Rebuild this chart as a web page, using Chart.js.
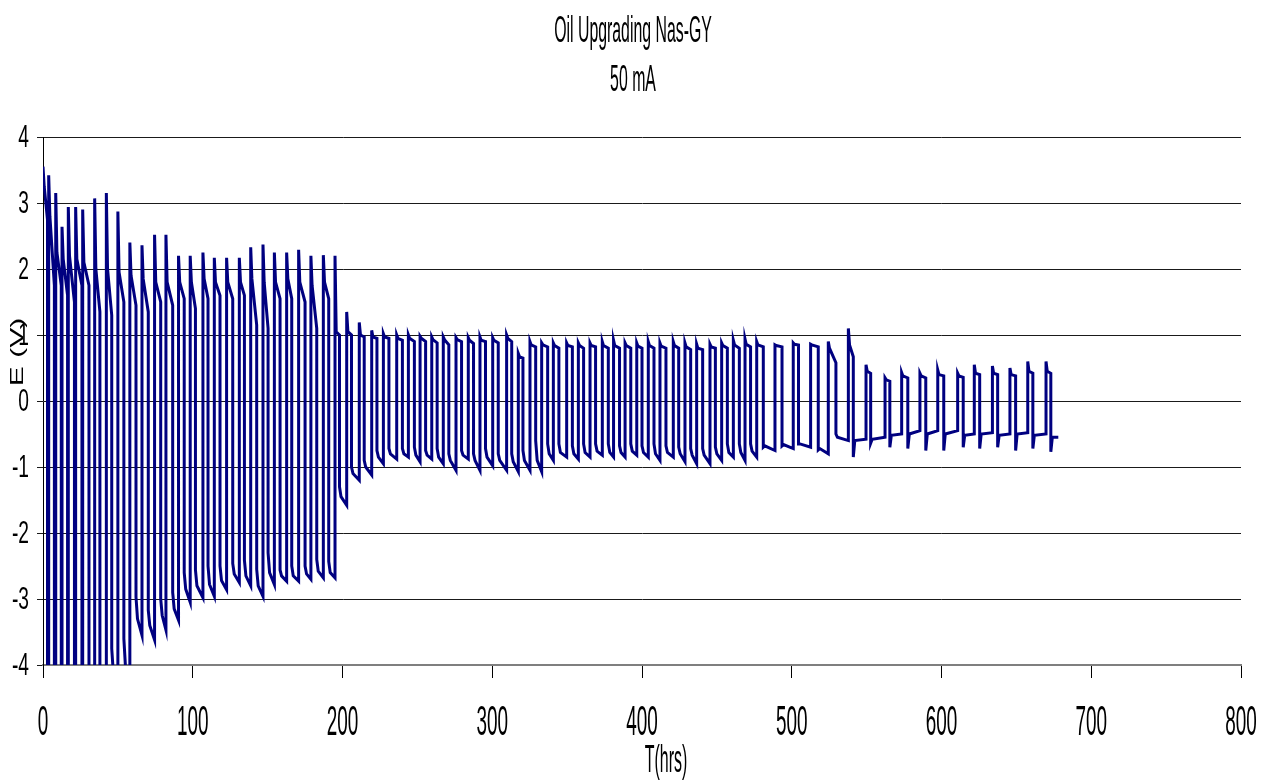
<!DOCTYPE html>
<html><head><meta charset="utf-8">
<script src="https://cdn.jsdelivr.net/npm/chart.js@4.4.1/dist/chart.umd.min.js"></script>
<style>html,body{margin:0;padding:0;background:#fff;}canvas{display:block;}</style>
</head><body>
<canvas id="c" width="1266" height="782"></canvas>
<script>
// ---- texts ----
const titleLines = ["Oil Upgrading Nas-GY", "50 mA"];
const xAxisTitle = "T(hrs)";
const yAxisTitle = "E (V)";
const xTicks = [0, 100, 200, 300, 400, 500, 600, 700, 800];
const yTicks = [-4, -3, -2, -1, 0, 1, 2, 3, 4];

// ---- cycle data (hours / volts) ----
const upT = [0, 3.8, 8.5, 12.7, 16.9, 21.8, 26.5, 34.5, 42.3, 50.0,
  58.0, 66.1, 74.5, 82.1, 90.5, 98.3, 106.8, 114.4, 122.6, 131.1,
  138.7, 146.9, 154.5, 162.7, 170.7, 178.9, 187.2, 195.0, 202.8, 211.2,
  219.5, 227.3, 236.2, 244.0, 251.8, 259.6, 267.3, 275.8, 284.0, 291.8,
  300.3, 309.6, 317.4, 325.2, 333.0, 340.8, 349.7, 357.5, 365.3, 373.5,
  381.0, 388.7, 396.5, 404.2, 412.0, 420.9, 428.7, 436.5, 445.4, 453.2,
  461.0, 468.8, 476.6, 488.8, 501.0, 512.6, 524.4, 537.8, 549.6, 562.3,
  573.4, 585.6, 597.5, 610.8, 621.9, 634.0, 645.7, 657.6, 669.8];
const downT = [3.0, 7.6, 12.2, 16.4, 21.0, 26.0, 30.7, 38.0, 45.9, 54.0,
  62.1, 70.3, 78.6, 86.6, 94.3, 101.8, 110.2, 118.2, 126.7, 134.5,
  142.7, 150.3, 158.3, 166.1, 175.0, 182.8, 190.8, 198.0, 206.0, 214.5,
  223.0, 231.0, 240.0, 248.0, 255.5, 263.2, 271.0, 279.5, 287.5, 295.5,
  304.0, 313.0, 320.5, 329.0, 337.0, 344.5, 353.5, 361.0, 369.0, 377.5,
  385.0, 392.5, 400.0, 408.0, 416.0, 424.5, 432.5, 440.5, 449.0, 457.0,
  465.0, 472.5, 481.0, 493.5, 504.5, 517.7, 529.5, 541.1, 552.7, 565.5,
  577.5, 589.5, 601.5, 614.5, 625.5, 637.5, 649.5, 661.0, 673.0];
const peakV = [3.55, 3.42, 3.15, 2.64, 2.94, 2.94, 2.9, 3.07, 3.15, 2.87,
  2.4, 2.36, 2.52, 2.52, 2.2, 2.2, 2.25, 2.17, 2.17, 2.17,
  2.33, 2.37, 2.25, 2.25, 2.29, 2.2, 2.21, 2.2, 1.35, 1.19,
  1.07, 1.02, 1.0, 1.0, 0.98, 0.97, 0.97, 0.96, 0.96, 0.97,
  0.96, 1.0, 0.72, 0.9, 0.88, 0.88, 0.88, 0.88, 0.88, 0.9,
  0.92, 0.88, 0.88, 0.9, 0.88, 0.9, 0.88, 0.86, 0.86, 0.88,
  0.92, 0.94, 0.9, 0.85, 0.88, 0.86, 0.9, 1.1, 0.55, 0.35,
  0.43, 0.42, 0.47, 0.42, 0.55, 0.53, 0.5, 0.6, 0.6];
const platV = [3.25, 2.8, 2.25, 2.15, 2.2, 2.15, 2.1, 2.0, 2.0, 1.95,
  1.9, 1.85, 1.8, 1.8, 1.8, 1.8, 1.85, 1.8, 1.8, 1.8,
  1.85, 1.8, 1.8, 1.85, 1.8, 1.75, 1.8, 1.05, 1.05, 1.0,
  0.97, 0.97, 0.95, 0.95, 0.95, 0.93, 0.93, 0.93, 0.92, 0.92,
  0.92, 0.95, 0.67, 0.85, 0.85, 0.84, 0.84, 0.84, 0.84, 0.84,
  0.84, 0.84, 0.83, 0.84, 0.83, 0.84, 0.82, 0.8, 0.82, 0.84,
  0.85, 0.86, 0.85, 0.84, 0.86, 0.85, 0.8, 0.85, 0.45, 0.32,
  0.38, 0.38, 0.4, 0.38, 0.42, 0.42, 0.4, 0.45, 0.45];
const posEndV = [2.75, 1.75, 1.75, 1.6, 1.5, 1.75, 1.75, 1.35, 1.3, 1.5,
  1.45, 1.35, 1.5, 1.45, 1.55, 1.4, 1.55, 1.6, 1.55, 1.6,
  1.15, 1.1, 1.55, 1.55, 1.5, 1.1, 1.55, 1.0, 1.0, 0.97,
  0.95, 0.95, 0.92, 0.9, 0.9, 0.88, 0.85, 0.9, 0.87, 0.9,
  0.88, 0.9, 0.65, 0.82, 0.82, 0.8, 0.82, 0.8, 0.82, 0.8,
  0.8, 0.8, 0.8, 0.8, 0.8, 0.8, 0.78, 0.78, 0.8, 0.8,
  0.8, 0.82, 0.82, 0.82, 0.85, 0.82, 0.58, 0.67, 0.42, 0.3,
  0.35, 0.35, 0.38, 0.36, 0.4, 0.4, 0.38, 0.42, 0.42];
const negStartV = [-4.6, -4.7, -4.7, -4.7, -4.7, -4.7, -4.7, -4.6, -3.75, -3.6,
  -2.97, -3.17, -3.0, -2.9, -2.6, -2.56, -2.5, -2.5, -2.46, -2.41,
  -2.55, -2.3, -2.56, -2.5, -2.5, -2.4, -2.43, -1.3, -1.0, -0.9,
  -0.75, -0.72, -0.72, -0.7, -0.75, -0.72, -0.8, -0.75, -0.8, -0.72,
  -0.8, -0.8, -0.75, -0.6, -0.65, -0.65, -0.68, -0.65, -0.65, -0.65,
  -0.68, -0.65, -0.68, -0.65, -0.68, -0.7, -0.72, -0.72, -0.7, -0.65,
  -0.65, -0.65, -0.7, -0.68, -0.65, -0.74, -0.5, -0.85, -0.64, -0.7,
  -0.72, -0.75, -0.75, -0.7, -0.72, -0.7, -0.75, -0.72, -0.77];
const negMidV = [-4.8, -4.8, -4.8, -4.8, -4.8, -4.8, -4.8, -4.8, -4.1, -4.0,
  -3.3, -3.4, -3.25, -3.15, -2.85, -2.8, -2.78, -2.72, -2.62, -2.65,
  -2.8, -2.6, -2.65, -2.65, -2.62, -2.58, -2.6, -1.45, -1.1, -1.0,
  -0.85, -0.8, -0.8, -0.82, -0.82, -0.85, -0.9, -0.82, -0.9, -0.85,
  -0.9, -0.92, -0.9, -0.9, -0.8, -0.78, -0.8, -0.78, -0.76, -0.78,
  -0.78, -0.76, -0.78, -0.8, -0.78, -0.8, -0.82, -0.82, -0.8, -0.78,
  -0.78, -0.76, -0.68, -0.66, -0.65, -0.72, -0.55, -0.6, -0.58, -0.52,
  -0.5, -0.5, -0.5, -0.52, -0.5, -0.52, -0.5, -0.52, -0.55];
const negEndV = [-4.8, -5.0, -5.0, -5.0, -5.0, -5.0, -5.0, -5.0, -4.4, -4.3,
  -3.55, -3.62, -3.47, -3.32, -3.05, -2.98, -2.96, -2.86, -2.75, -2.8,
  -2.96, -2.78, -2.73, -2.73, -2.7, -2.68, -2.68, -1.58, -1.2, -1.12,
  -0.95, -0.88, -0.85, -0.92, -0.88, -0.95, -1.05, -0.88, -1.05, -0.98,
  -1.05, -1.07, -1.05, -1.07, -0.9, -0.85, -0.88, -0.85, -0.82, -0.85,
  -0.85, -0.82, -0.85, -0.9, -0.85, -0.92, -0.95, -0.95, -0.9, -0.85,
  -0.9, -0.85, -0.75, -0.72, -0.7, -0.8, -0.6, -0.58, -0.55, -0.5,
  -0.45, -0.45, -0.45, -0.5, -0.48, -0.5, -0.48, -0.5, -0.55];
const endT = 678;

// shape durations (hours) for the spike decay and the discharge knee
const RISE = 0.8, FALL = 1.0;

const points = [];
for (let i = 0; i < upT.length; i++) {
  const nextT = i + 1 < upT.length ? upT[i + 1] : endT;
  points.push({x: upT[i], y: peakV[i]});
  points.push({x: upT[i] + RISE, y: platV[i]});
  points.push({x: downT[i], y: posEndV[i]});
  points.push({x: downT[i], y: negStartV[i]});
  points.push({x: downT[i] + FALL, y: negMidV[i]});
  points.push({x: nextT, y: negEndV[i]});
}

const FONT = '"Liberation Sans", Arial, sans-serif';
function squeezed(ctx, text, x, y, size, sx, align, rotate) {
  ctx.save();
  ctx.translate(x, y);
  ctx.scale(sx, 1);
  if (rotate) ctx.rotate(-Math.PI / 2);
  ctx.font = size + 'px ' + FONT;
  ctx.textAlign = align;
  ctx.textBaseline = 'middle';
  ctx.fillStyle = '#000';
  ctx.fillText(text, 0, 0);
  ctx.restore();
}

const textPlugin = {
  id: 'squeezedText',
  afterDraw(chart) {
    const ctx = chart.ctx, xs = chart.scales.x, ys = chart.scales.y;
    squeezed(ctx, titleLines[0], 633, 32, 36, 0.44, 'center');
    squeezed(ctx, titleLines[1], 633, 81, 36, 0.44, 'center');
    yTicks.forEach(v => squeezed(ctx, String(v), 29, ys.getPixelForValue(v) + 1, 32, 0.6, 'right'));
    xTicks.forEach(v => squeezed(ctx, String(v), xs.getPixelForValue(v), 723, 42, 0.45, 'center'));
    squeezed(ctx, xAxisTitle, 666, 762, 38, 0.42, 'center');
    squeezed(ctx, yAxisTitle, 18, 352, 30, 0.6, 'center', true);
  }
};

new Chart(document.getElementById('c'), {
  type: 'scatter',
  data: {
    datasets: [{
      data: points,
      showLine: true,
      borderColor: '#000080',
      backgroundColor: '#000080',
      borderWidth: 3,
      pointRadius: 0,
      tension: 0,
      borderJoinStyle: 'miter'
    }]
  },
  options: {
    responsive: false,
    animation: false,
    devicePixelRatio: 1,
    layout: {padding: {left: 37, top: 137, right: 25, bottom: 104}},
    plugins: {legend: {display: false}, tooltip: {enabled: false}, title: {display: false}},
    scales: {
      x: {
        type: 'linear', min: 0, max: 800,
        ticks: {display: false, stepSize: 100},
        grid: {display: true, drawOnChartArea: false, drawTicks: true, tickLength: 13, color: '#000', lineWidth: 1},
        border: {display: true, color: '#7f7f7f', width: 2}
      },
      y: {
        type: 'linear', min: -4, max: 4,
        ticks: {display: false, stepSize: 1},
        grid: {display: true, drawTicks: true, tickLength: 6, color: '#1a1a1a', lineWidth: 1},
        border: {display: true, color: '#000', width: 1}
      }
    }
  },
  plugins: [textPlugin]
});
</script>
</body></html>
